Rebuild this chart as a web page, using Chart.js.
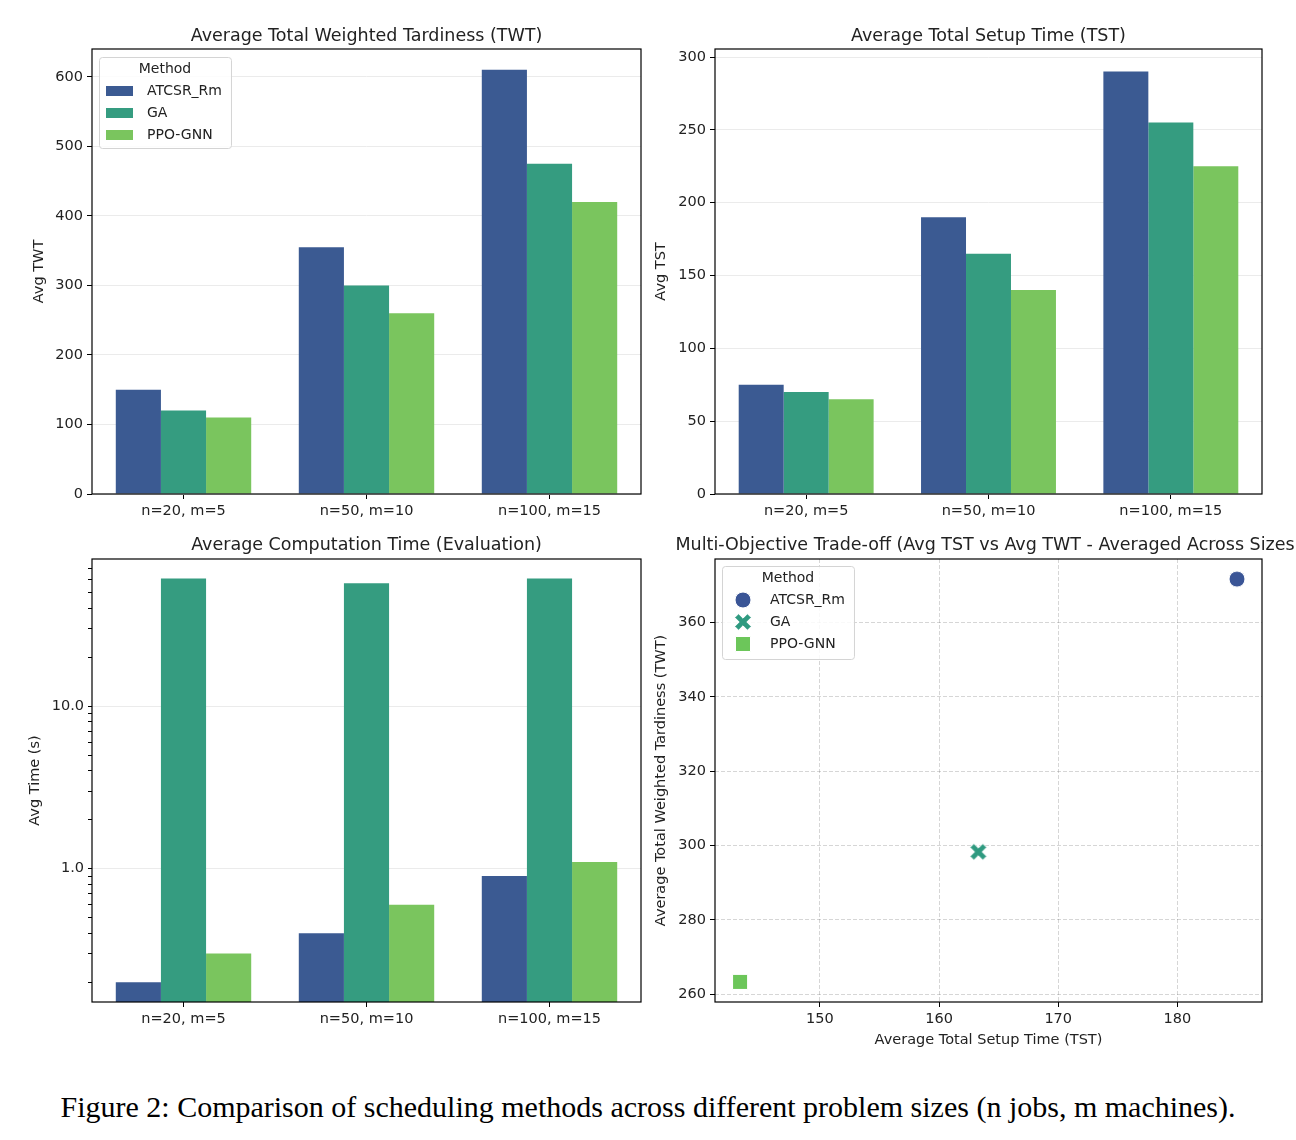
<!DOCTYPE html>
<html>
<head>
<meta charset="utf-8">
<script src="https://cdn.jsdelivr.net/npm/chart.js"></script>
<style>
  body { margin: 0; background: #fff; width: 1296px; height: 1140px; position: relative; overflow: hidden; }
  .panel { position: absolute; }
  #caption { position: absolute; left: 0; top: 1090px; width: 1296px; text-align: center;
             font-family: "Liberation Serif", serif; font-size: 30px; line-height: 34px; color: #000; }
</style>
</head>
<body>
<div class="panel" style="left:28px;top:0px;width:627px;height:530px"><canvas id="twtChart"></canvas></div>
<div class="panel" style="left:650px;top:0px;width:646px;height:530px"><canvas id="tstChart"></canvas></div>
<div class="panel" style="left:24px;top:530px;width:631px;height:530px"><canvas id="timeChart"></canvas></div>
<div class="panel" style="left:650px;top:530px;width:646px;height:530px"><canvas id="tradeChart"></canvas></div>
<div id="caption">Figure 2: Comparison of scheduling methods across different problem sizes (n jobs, m machines).</div>

<script>
// data
const categories = ['n=20, m=5', 'n=50, m=10', 'n=100, m=15'];
const methods = ['ATCSR_Rm', 'GA', 'PPO-GNN'];

const twtAtcsr = [150, 355, 610];
const twtGa = [120, 300, 475];
const twtPpo = [110, 260, 420];

const tstAtcsr = [75, 190, 290];
const tstGa = [70, 165, 255];
const tstPpo = [65, 140, 225];

const timeAtcsr = [0.2, 0.4, 0.9];
const timeGa = [61, 57, 61];
const timePpo = [0.3, 0.6, 1.1];

// averaged across sizes (scatter)
const tradeTst = [185.0, 163.3, 143.3];
const tradeTwt = [371.7, 298.3, 263.3];

const twtTicks = [0, 100, 200, 300, 400, 500, 600];
const tstTicks = [0, 50, 100, 150, 200, 250, 300];
const timeMajor = [1, 10];
const timeMinor = [0.2, 0.3, 0.4, 0.5, 0.6, 0.7, 0.8, 0.9, 2, 3, 4, 5, 6, 7, 8, 9, 20, 30, 40, 50, 60, 70];
const tradeXTicks = [150, 160, 170, 180];
const tradeYTicks = [260, 280, 300, 320, 340, 360];

const barColors = ['#3b5a92', '#359c80', '#7ac55e'];
const dotColors = ['#3a5596', '#2f9a80', '#6cc65a'];

Chart.defaults.font.family = 'DejaVu Sans';
Chart.defaults.font.size = 14.5;
Chart.defaults.color = '#222';
Chart.defaults.animation = false;

// axes frame on all four sides, like matplotlib spines
const frame = {
  id: 'frame',
  afterDatasetsDraw(chart) {
    const a = chart.chartArea, ctx = chart.ctx;
    ctx.save();
    ctx.strokeStyle = '#000';
    ctx.lineWidth = 1.2;
    ctx.strokeRect(a.left, a.top, a.right - a.left, a.bottom - a.top);
    ctx.restore();
  }
};

// title centred over the plot area
const axTitle = {
  id: 'axTitle',
  afterDraw(chart, args, opts) {
    const a = chart.chartArea, ctx = chart.ctx;
    ctx.save();
    ctx.font = '17.5px "DejaVu Sans"';
    ctx.fillStyle = '#222';
    ctx.textAlign = 'center';
    ctx.textBaseline = 'middle';
    ctx.fillText(opts.text, (a.left + a.right) / 2, a.top - opts.gap);
    ctx.restore();
  }
};

// matplotlib style legend box inside the axes
const methodLegend = {
  id: 'methodLegend',
  afterDraw(chart, args, opts) {
    const a = chart.chartArea, ctx = chart.ctx;
    const x0 = a.left + 7, y0 = a.top + opts.dy;
    const sets = chart.data.datasets;
    ctx.save();
    ctx.font = '14px "DejaVu Sans"';
    const tw = Math.max(...sets.map(d => ctx.measureText(d.label).width));
    const w = 47 + tw + 10, h = opts.h;
    ctx.beginPath();
    ctx.roundRect(x0 + 0.5, y0 + 0.5, w, h, 3);
    ctx.fillStyle = 'rgba(255,255,255,0.85)';
    ctx.fill();
    ctx.strokeStyle = '#d4d4d4';
    ctx.lineWidth = 1;
    ctx.stroke();
    ctx.fillStyle = '#222';
    ctx.textBaseline = 'middle';
    ctx.textAlign = 'center';
    ctx.fillText('Method', x0 + w / 2, y0 + 12);
    ctx.textAlign = 'left';
    sets.forEach((d, i) => {
      const cy = y0 + 34 + i * 22;
      if (opts.points) {
        const img = d.pointStyle;
        ctx.drawImage(img, x0 + 21 - img.width / 2, cy - img.height / 2);
      } else {
        ctx.fillStyle = d.backgroundColor;
        ctx.fillRect(x0 + 7, cy - 5, 27, 10);
      }
      ctx.fillStyle = '#222';
      ctx.fillText(d.label, x0 + 48, cy);
    });
    ctx.restore();
  }
};

function marker(kind, color) {
  const c = document.createElement('canvas');
  c.width = 20; c.height = 20;
  const g = c.getContext('2d');
  g.fillStyle = color;
  g.strokeStyle = '#fff';
  g.lineWidth = 1;
  g.beginPath();
  if (kind === 'circle') {
    g.arc(10, 10, 8, 0, 2 * Math.PI);
  } else if (kind === 'square') {
    g.rect(2.5, 2.5, 15, 15);
  } else {
    const t = 0.3, s = 9;
    const pts = [[-t,-1],[t,-1],[t,-t],[1,-t],[1,t],[t,t],[t,1],[-t,1],[-t,t],[-1,t],[-1,-t],[-t,-t]];
    pts.forEach((p, i) => {
      const x = 10 + s * (p[0] - p[1]) / Math.SQRT2;
      const y = 10 + s * (p[0] + p[1]) / Math.SQRT2;
      if (i === 0) g.moveTo(x, y); else g.lineTo(x, y);
    });
    g.closePath();
  }
  g.fill();
  g.stroke();
  return c;
}

function barDatasets(series) {
  return series.map((vals, i) => ({
    label: methods[i],
    data: vals,
    backgroundColor: barColors[i],
    borderWidth: 0,
    categoryPercentage: 0.74,
    barPercentage: 1.0
  }));
}

function catAxis(height) {
  return {
    type: 'category',
    afterFit: s => { s.height = height; },
    grid: { drawOnChartArea: false, offset: false, tickColor: '#000', tickLength: 5, tickWidth: 1 },
    border: { display: false },
    ticks: { padding: 4 }
  };
}

function valAxis(width, label, min, max, tickVals) {
  return {
    min: min, max: max,
    afterBuildTicks: s => { s.ticks = tickVals.map(v => ({ value: v })); },
    afterFit: s => { s.width = width; },
    grid: { color: '#ebebeb', lineWidth: 1, tickColor: '#000', tickLength: 5 },
    border: { display: false },
    ticks: { padding: 4 },
    title: { display: true, text: label, padding: { top: 3, bottom: 0 } }
  };
}

const baseOpts = (top, right) => ({
  responsive: true,
  maintainAspectRatio: false,
  events: [],
  layout: { padding: { top: top, right: right, left: 0, bottom: 0 } }
});

new Chart(document.getElementById('twtChart'), {
  type: 'bar',
  data: { labels: categories, datasets: barDatasets([twtAtcsr, twtGa, twtPpo]) },
  options: Object.assign(baseOpts(49, 14), {
    scales: { x: catAxis(36), y: valAxis(64, 'Avg TWT', 0, 640, twtTicks) },
    plugins: {
      legend: { display: false }, tooltip: { enabled: false },
      axTitle: { text: 'Average Total Weighted Tardiness (TWT)', gap: 13 },
      methodLegend: { dy: 8, h: 91, points: false }
    }
  }),
  plugins: [frame, axTitle, methodLegend]
});

new Chart(document.getElementById('tstChart'), {
  type: 'bar',
  data: { labels: categories, datasets: barDatasets([tstAtcsr, tstGa, tstPpo]) },
  options: Object.assign(baseOpts(49, 34), {
    scales: { x: catAxis(36), y: valAxis(65, 'Avg TST', 0, 305.5, tstTicks) },
    plugins: {
      legend: { display: false }, tooltip: { enabled: false },
      axTitle: { text: 'Average Total Setup Time (TST)', gap: 13 }
    }
  }),
  plugins: [frame, axTitle]
});

const timeY = valAxis(68, 'Avg Time (s)', 0.151, 80.5, []);
timeY.type = 'logarithmic';
timeY.afterBuildTicks = s => {
  s.ticks = timeMinor.concat(timeMajor).sort((p, q) => p - q).map(v => ({ value: v }));
};
timeY.ticks = { padding: 4, autoSkip: false, callback: v => timeMajor.includes(v) ? v.toFixed(1) : '' };
timeY.grid = {
  color: c => (c.tick && timeMajor.includes(c.tick.value)) ? '#ebebeb' : 'rgba(0,0,0,0)',
  lineWidth: 1, tickColor: '#000', tickLength: 4
};

new Chart(document.getElementById('timeChart'), {
  type: 'bar',
  data: { labels: categories, datasets: barDatasets([timeAtcsr, timeGa, timePpo]) },
  options: Object.assign(baseOpts(29, 14), {
    scales: { x: catAxis(58), y: timeY },
    plugins: {
      legend: { display: false }, tooltip: { enabled: false },
      axTitle: { text: 'Average Computation Time (Evaluation)', gap: 14 }
    }
  }),
  plugins: [frame, axTitle]
});

const shapes = ['circle', 'x', 'square'];
new Chart(document.getElementById('tradeChart'), {
  type: 'scatter',
  data: {
    datasets: methods.map((m, i) => ({
      label: m,
      data: [{ x: tradeTst[i], y: tradeTwt[i] }],
      pointStyle: marker(shapes[i], dotColors[i]),
      backgroundColor: dotColors[i]
    }))
  },
  options: Object.assign(baseOpts(29, 34), {
    scales: {
      x: {
        type: 'linear', min: 141.2, max: 187.1,
        afterBuildTicks: s => { s.ticks = tradeXTicks.map(v => ({ value: v })); },
        afterFit: s => { s.height = 58; },
        grid: { color: 'rgba(0,0,0,0.16)', tickColor: '#000', tickLength: 5 },
        border: { display: false, dash: [4, 2] },
        ticks: { padding: 4 },
        title: { display: true, text: 'Average Total Setup Time (TST)', padding: { top: 0, bottom: 11 } }
      },
      y: {
        min: 257.9, max: 377.1,
        afterBuildTicks: s => { s.ticks = tradeYTicks.map(v => ({ value: v })); },
        afterFit: s => { s.width = 65; },
        grid: { color: 'rgba(0,0,0,0.16)', tickColor: '#000', tickLength: 5 },
        border: { display: false, dash: [4, 2] },
        ticks: { padding: 4 },
        title: { display: true, text: 'Average Total Weighted Tardiness (TWT)', padding: { top: 3, bottom: 0 } }
      }
    },
    plugins: {
      legend: { display: false }, tooltip: { enabled: false },
      axTitle: { text: 'Multi-Objective Trade-off (Avg TST vs Avg TWT - Averaged Across Sizes)', gap: 14 },
      methodLegend: { dy: 7, h: 93, points: true }
    }
  }),
  plugins: [frame, axTitle, methodLegend]
});
</script>
</body>
</html>
